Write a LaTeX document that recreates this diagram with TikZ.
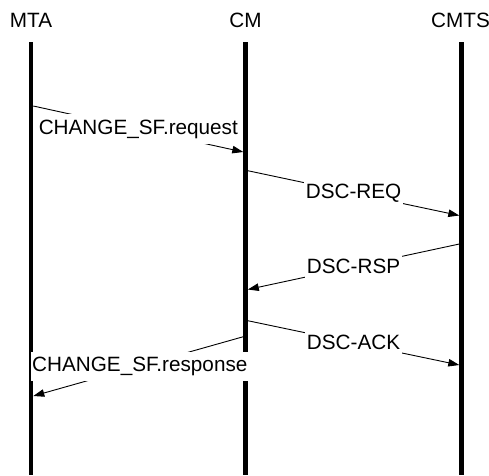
\documentclass[tikz,border=0pt]{standalone}
\usepackage{fontspec}
\setmainfont{Liberation Sans}
\usetikzlibrary{arrows.meta}

\begin{document}
\begin{tikzpicture}
	[x=1pt, y=-1pt, font=\fontsize{20.7}{24}\selectfont,
	head/.style = {inner sep=0pt},
	life/.style = {line width=4.5pt},
	msg/.style = {line width=0.9pt, -{Triangle[length=11pt, width=7.5pt]}},
	lbl/.style = {fill=white, inner xsep=1.5pt, inner ysep=5.3pt}]
	\useasboundingbox (0,0) rectangle (489,475);
	\node[head] (mta) at (31,20.3) {MTA};
	\node[head] (cm) at (245.5,20.3) {CM};
	\node[head] (cmts) at (460.5,20.3) {CMTS};
	% lifelines
	\coordinate (mta-top) at (31,42);
	\coordinate (mta-bot) at (31,475);
	\coordinate (cm-top) at (245.5,42);
	\coordinate (cm-bot) at (245.5,475);
	\coordinate (cmts-top) at (461.5,42);
	\coordinate (cmts-bot) at (461.5,475);
	\foreach \n in {mta,cm,cmts}
		\draw[life] (\n-top) -- (\n-bot);
	% message ends
	\coordinate (req-from) at (33.3,106);
	\coordinate (req-to) at (243.3,152);
	\coordinate (dreq-from) at (247.8,170.7);
	\coordinate (dreq-to) at (459.3,215.5);
	\coordinate (drsp-from) at (459.3,244);
	\coordinate (drsp-to) at (247.8,289.5);
	\coordinate (dack-from) at (247.8,320.7);
	\coordinate (dack-to) at (459.3,365);
	\coordinate (rsp-from) at (243.3,336.7);
	\coordinate (rsp-to) at (33.3,396);
	\draw[msg] (req-from) -- node[lbl] {CHANGE\_SF.request} (req-to);
	\draw[msg] (dreq-from) -- node[lbl] {DSC-REQ} (dreq-to);
	\draw[msg] (drsp-from) -- node[lbl] {DSC-RSP} (drsp-to);
	\draw[msg] (dack-from) -- node[lbl] {DSC-ACK} (dack-to);
	\draw[msg] (rsp-from) -- node[lbl, xshift=1.5pt] {CHANGE\_SF.response} (rsp-to);
\end{tikzpicture}
\end{document}
